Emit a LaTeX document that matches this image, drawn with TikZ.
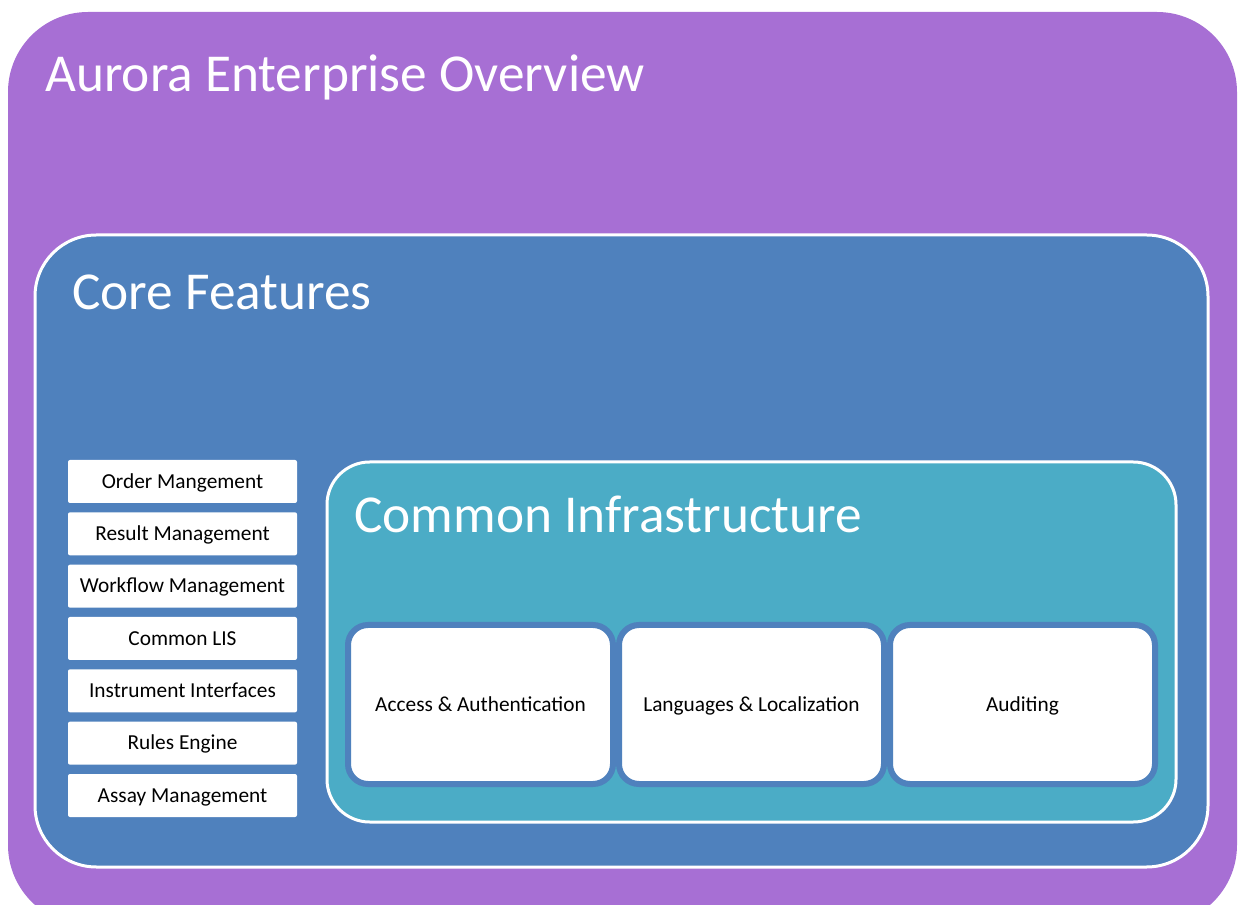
\documentclass[tikz,border=0pt]{standalone}
\usepackage{fontspec}
\setmainfont{Carlito}
\usepackage{xcolor}
\usepackage{tikz}
\usetikzlibrary{positioning}
\usetikzlibrary{fit}

\definecolor{auroraPurple}{RGB}{167,111,212}
\definecolor{coreBlue}{RGB}{79,129,189}
\definecolor{infraTeal}{RGB}{75,172,198}

\tikzset{
  panel/.style={inner sep=0pt, rounded corners=#1},
  panel/.default=20pt,
  paneltitle/.style={anchor=base west, inner sep=0pt, text=white,
    font=\fontsize{40}{48}\selectfont},
  feature/.style={fill=white, rounded corners=1.5pt, inner sep=0pt,
    minimum width=171.75pt, minimum height=32.25pt,
    text height=12pt, text depth=2pt,
    font=\fontsize{16}{19}\selectfont},
  service/.style={fill=white, draw=coreBlue, line width=4.5pt,
    rounded corners=15pt, inner sep=0pt,
    minimum width=198.75pt, minimum height=119.25pt,
    text height=12pt, text depth=2pt,
    font=\fontsize{16}{19}\selectfont}
}

\begin{document}
\begin{tikzpicture}[x=0.75pt, y=-0.75pt]
      \useasboundingbox (0,0) rectangle (1240,905);
      \clip (0,0) rectangle (1240,905);

      % nested panels
      \node[panel=60pt, fill=auroraPurple, fit={(8,12) (1237,925)}] (overview) {};
      \node[panel=46pt, fill=coreBlue, draw=white, line width=2.25pt,
        fit={(35,235) (1208,867)}] (core) {};
      \node[panel=32pt, fill=infraTeal, draw=white, line width=2.25pt,
        fit={(327,462) (1176,822)}] (infra) {};

      \node[paneltitle] (overviewtitle) at (45,92) {Aurora Enterprise Overview};
      \node[paneltitle] (coretitle) at (72,310) {Core Features};
      \node[paneltitle] (infratitle) at (354,533) {Common Infrastructure};

      % core feature list
      \node[feature] (order) at (182.5,481.5) {Order Mangement};
      \node[feature, below=6.6pt of order] (result) {Result Management};
      \node[feature, below=6.6pt of result] (workflow) {Workflow Management};
      \node[feature, below=6.6pt of workflow] (lis) {Common LIS};
      \node[feature, below=6.6pt of lis] (instrument) {Instrument Interfaces};
      \node[feature, below=6.6pt of instrument] (rules) {Rules Engine};
      \node[feature, below=6.6pt of rules] (assay) {Assay Management};

      % common infrastructure services
      \node[service] (access) at (480.5,704.5) {Access \& Authentication};
      \node[service, right=0pt of access] (languages) {Languages \& Localization};
      \node[service, right=0pt of languages] (auditing) {Auditing};
    \end{tikzpicture}
\end{document}
